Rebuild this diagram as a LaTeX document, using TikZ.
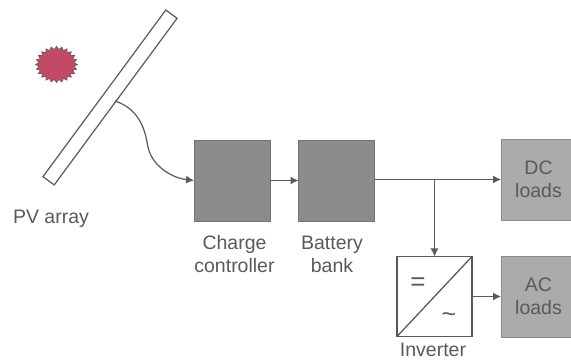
\documentclass[tikz,border=0pt]{standalone}
\usepackage{fontspec}
\setmainfont{Liberation Sans}
\usetikzlibrary{shapes.geometric,arrows.meta}
\definecolor{ink}{HTML}{5A5A5A}
\definecolor{darkbox}{HTML}{8C8C8C}
\definecolor{lightbox}{HTML}{ABABAB}
\definecolor{sunred}{HTML}{C24A66}
\tikzset{
  every node/.style={inner sep=0pt,outer sep=0pt,text=ink,font=\fontsize{19.5}{23}\selectfont,align=center},
  graybox/.style={draw=ink!85,line width=.8pt,fill=darkbox,minimum width=76pt,minimum height=81pt},
  loadbox/.style={draw=ink!70,line width=.8pt,fill=lightbox,minimum width=75pt,minimum height=81pt},
  conv/.style={draw=ink,line width=1.3pt,minimum width=75pt,minimum height=80pt},
  wire/.style={draw=ink,line width=1.2pt},
  flow/.style={wire,-{Latex[length=8pt,width=8pt]}}
}
\begin{document}
\begin{tikzpicture}[x=1pt,y=1pt]
\useasboundingbox (0,0) rectangle (571,362);
\fill[white] (0,0) rectangle (571,362);
% sun
\node[star,star points=24,star point ratio=1.2,minimum size=36pt,xscale=1.16,transform shape,draw=ink!80!sunred,line width=.7pt,fill=sunred] (sun) at (56.5,297.5) {};
% panel
\node[rectangle,rotate=53.6,minimum width=207pt,minimum height=14pt,draw=ink,line width=1.2pt,fill=white] (panel) at (110,264.5) {};
\coordinate (tap) at (115,261);
% boxes
\node[graybox] (cc) at (232,181.5) {};
\node[graybox] (bat) at (336.5,181.5) {};
\node[loadbox] (dc) at (538.5,182.5) {DC\\loads};
\node[loadbox] (ac) at (538.5,65.5) {AC\\loads};
\node[conv] (inv) at (434.5,65.5) {};
\draw[wire,line width=1.3pt] (inv.south west) -- (inv.north east);
\node (eq) at (418,78) {\fontsize{26}{26}\selectfont =};
\node (ti) at (449,44) {\fontsize{25}{25}\selectfont \char"7E};
% labels
\node (pvl) at (51,143) {PV array};
\node (ccl) at (234.5,107.5) {Charge\\controller};
\node (batl) at (332,107.5) {Battery\\bank};
\node (invl) at (433,12) {Inverter};
% connectors
\draw[flow] (tap) .. controls (143,252) and (146,225) .. (148,215) .. controls (152,196) and (172,184) .. (cc.west);
\draw[flow] (cc.east) -- (bat.west);
\draw[flow] (bat.east |- dc.west) -- (dc.west);
\draw[flow] (inv.north |- dc.west) -- (inv.north);
\draw[flow] (inv.east) -- (ac.west);
\end{tikzpicture}
\end{document}
